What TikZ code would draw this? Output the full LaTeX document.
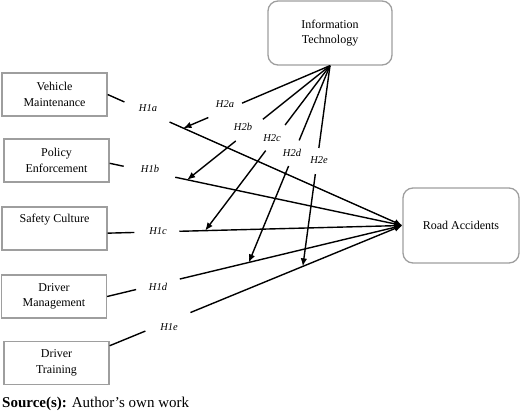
\documentclass[tikz,border=0pt]{standalone}
\usepackage{fontspec}
\setmainfont{Liberation Serif}
\usetikzlibrary{arrows.meta}

\begin{document}
\begin{tikzpicture}
  [x=1pt,y=-1pt,
   every node/.style={font=\fontsize{12}{15.5}\selectfont},
   factor/.style={draw=black!38,line width=1.3pt,minimum width=105pt,minimum height=43pt,align=center,inner sep=1pt},
   outcome/.style={factor,rounded corners=10pt},
   hyp/.style={font=\fontsize{10.5}{12}\selectfont\itshape,inner sep=0pt},
   link/.style={line width=1.4pt},
   linkarrow/.style={link,-{Latex[length=8pt,width=6.5pt]}}]
  \useasboundingbox (0,0) rectangle (520,413);

  \node[factor] (vm) at (54.5,94.5) {Vehicle\\Maintenance};
  \node[factor] (pe) at (56.5,160.5) {Policy\\Enforcement};
  \node[factor] (sc) at (54.5,228.5) {Safety Culture\\\strut};
  \node[factor] (dm) at (54,296.5) {Driver\\Management};
  \node[factor] (dt) at (56.5,363) {Driver\\Training};
  \node[outcome,minimum width=124pt,minimum height=64pt] (it) at (330,33) {Information\\Technology};
  \node[outcome,minimum width=116pt,minimum height=75pt] (ra) at (461,225.5) {Road Accidents};

  % direct effects
  \foreach \src/\k/\ga/\gb/\tp/\lx/\ly in {vm.east/a/.057/.21/.257/148/108, pe.-3/b/.048/.224/.265/150/168.5,
      sc.-5/c/.091/.243/.331/158/231, dm.east/d/.098/.246/.48/158/287, dt.18/e/.122/.276/.66/169/327}
  {
    \path (\src) -- coordinate[pos=\ga] (g1\k) coordinate[pos=\gb] (h1\k) coordinate[pos=\tp] (m1\k) (ra.west);
    \draw[link] (\src) -- (g1\k);
    \draw[linkarrow] (h1\k) -- (ra.west);
    \node[hyp] (l1\k) at (\lx,\ly) {H1\k};
  }

  % moderating effects
  \foreach \k/\ga/\gb/\lx/\ly in {a/.60/.83/225/104, b/.47/.66/243/127, c/.36/.515/272/138,
      d/.38/.51/292/153, e/.41/.54/319/160}
  {
    \path (it.south) -- coordinate[pos=\ga] (g2\k) coordinate[pos=\gb] (h2\k) (m1\k);
    \draw[link] (it.south) -- (g2\k);
    \draw[linkarrow] (h2\k) -- (m1\k);
    \node[hyp] (l2\k) at (\lx,\ly) {H2\k};
  }

  \node[anchor=base west,inner sep=0pt,font=\fontsize{15}{18}\selectfont] (src) at (2,407)
    {\textbf{Source(s):} Author's own work};
\end{tikzpicture}
\end{document}
